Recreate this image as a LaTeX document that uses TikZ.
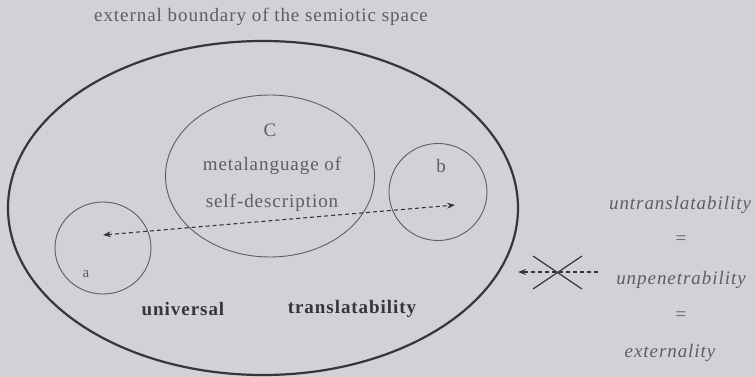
\documentclass[tikz,border=0pt]{standalone}
\usepackage{fontspec}
\setmainfont[LetterSpace=5]{Liberation Serif}
\usetikzlibrary{shapes.geometric,arrows.meta}
\definecolor{bg}{RGB}{211,208,214}
\definecolor{txt}{RGB}{95,93,98}
\definecolor{dark}{RGB}{55,53,58}
\definecolor{thin}{RGB}{95,93,98}
\tikzset{
  lbl/.style={text=txt, font=\fontsize{19}{22}\selectfont, inner sep=0},
  blbl/.style={text=dark, font=\fontsize{19}{22}\selectfont\bfseries, inner sep=0},
  ilbl/.style={text=txt, font=\fontsize{19}{22}\selectfont\itshape, inner sep=0},
  outerell/.style={ellipse, draw=dark, line width=2.2pt, inner sep=0},
  innercirc/.style={ellipse, draw=thin, line width=0.9pt, inner sep=0},
  dasharrow/.style={draw=dark, line width=1.1pt, dash pattern=on 4pt off 3pt, {Stealth[length=8pt,width=6pt]}-{Stealth[length=8pt,width=6pt]}},
  onearrow/.style={draw=dark, line width=1.1pt, dash pattern=on 4pt off 3pt, -{Stealth[length=8pt,width=6pt]}},
  crossline/.style={draw=dark, line width=1.2pt}
}
\begin{document}
\begin{tikzpicture}[x=1pt,y=-1pt]
\fill[bg] (0,0) rectangle (755,377);
\useasboundingbox (0,0) rectangle (755,377);

\node[lbl] (title) at (261,17) {external boundary of the semiotic space};

\node[outerell, minimum width=510pt, minimum height=334pt] (outer) at (263,208) {};
\node[innercirc, minimum width=209pt, minimum height=162pt] (C) at (270,176) {};
\node[innercirc, minimum width=98pt, minimum height=97pt] (b) at (438,192) {};
\node[innercirc, minimum width=96pt, minimum height=92pt] (a) at (103,248) {};

\node[lbl] (Clbl) at (270,130) {C};
\node[lbl] (meta1) at (272,166) {metalanguage of};
\node[lbl] (meta2) at (272,203) {self-description};
\node[lbl] (blbl) at (441,166) {b};
\node[lbl, font=\fontsize{15}{17}\selectfont] (albl) at (86,274) {a};

\node[blbl] (univ) at (183,309) {universal};
\node[blbl] (trans) at (352,309) {translatability};

\coordinate (pb) at (455,205);
\coordinate (pa) at (103,235);
\draw[dasharrow] (pa) -- (pb);

\node[ilbl] (untr) at (680,205) {untranslatability};
\node[lbl] (eq1) at (681,240) {=};
\node[ilbl] (unpen) at (681,280) {unpenetrability};
\node[lbl] (eq2) at (681,316) {=};
\node[ilbl] (ext) at (670,353) {externality};

\coordinate (rs) at (598,272);
\coordinate (re) at (518,272);
\draw[onearrow] (rs) -- (re);
\coordinate (x1) at (533,256);
\coordinate (x2) at (582,289);
\coordinate (x3) at (533,289);
\coordinate (x4) at (582,256);
\draw[crossline] (x1) -- (x2);
\draw[crossline] (x3) -- (x4);
\end{tikzpicture}
\end{document}
